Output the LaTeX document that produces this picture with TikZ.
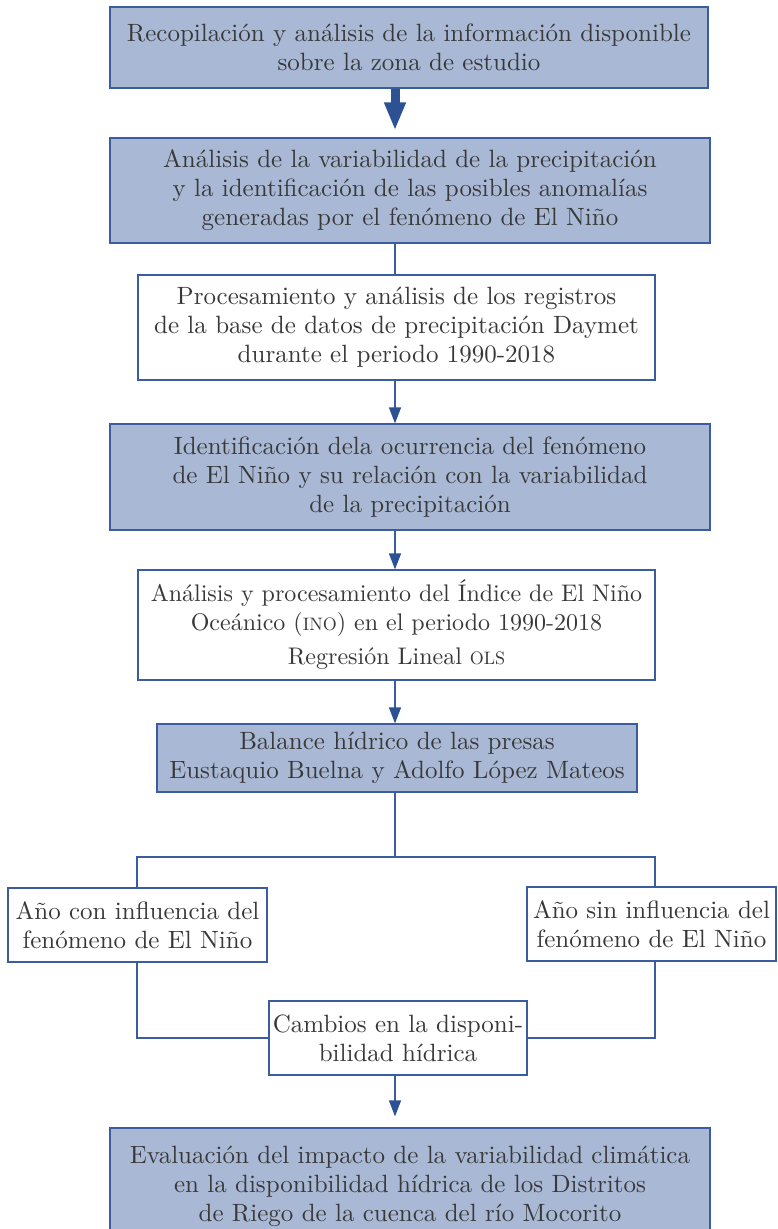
\documentclass[tikz,border=0pt]{standalone}
\usepackage{fontspec}
\setmainfont{lmroman10-regular}[Extension=.otf]
\usepackage{tikz}
\usetikzlibrary{arrows.meta,positioning,calc}
\definecolor{flowFill}{HTML}{A9B9D5}
\definecolor{flowEdge}{HTML}{3B5DA0}
\definecolor{flowArrow}{HTML}{2C5294}
\definecolor{flowText}{HTML}{383838}
\newcommand{\acro}[1]{{\fontsize{18}{18}\selectfont #1}}

\begin{document}
\begin{tikzpicture}[x=1pt,y=-1pt,font=\fontsize{25}{29}\selectfont,text=flowText,
    box/.style={draw=flowEdge,line width=1.2pt,align=center,inner sep=0pt},
    bluebox/.style={box,fill=flowFill},
    whitebox/.style={box,fill=white},
    link/.style={draw=flowEdge,line width=1.3pt},
    tolink/.style={link,-{Triangle[length=16pt,width=12pt,color=flowArrow]}},
    bigarrow/.style={draw=flowArrow,line width=9pt,-{Triangle[length=28pt,width=20pt]}}]
  \useasboundingbox (0,0) rectangle (777,1229);
  \coordinate (spine) at (395,0);

  % main column
  \node[bluebox,minimum width=598pt,minimum height=81pt] (recop) at (409,47.5)
    {Recopilación y análisis de la información disponible\\sobre la zona de estudio};
  \node[bluebox,minimum width=600pt,minimum height=105pt] (anal) at (410,190.5)
    {Análisis de la variabilidad de la precipitación\\y la identificación de las posibles anomalías\\generadas por el fenómeno de El Niño};
  \node[whitebox,minimum width=517pt,minimum height=105pt] (proc) at (396.5,327.5)
    {Procesamiento y análisis de los registros\\de la base de datos de precipitación Daymet\\durante el periodo 1990-2018};
  \node[bluebox,minimum width=600pt,minimum height=106pt] (ident) at (410,477)
    {Identificación dela ocurrencia del fenómeno\\de El Niño y su relación con la variabilidad\\de la precipitación};
  \node[whitebox,minimum width=517pt,minimum height=110pt,font=\fontsize{24}{29}\selectfont] (indice) at (396.5,625)
    {Análisis y procesamiento del Índice de El Niño\\Oceánico (\acro{INO}) en el periodo 1990-2018\\[5pt]Regresión Lineal \acro{OLS}};
  \node[bluebox,minimum width=480pt,minimum height=68pt] (balance) at (397,758)
    {Balance hídrico de las presas\\Eustaquio Buelna y Adolfo López Mateos};

  % the two cases
  \node[whitebox,minimum width=259pt,minimum height=74pt] (conNino) at (137.5,925)
    {Año con influencia del\\fenómeno de El Niño};
  \node[whitebox,minimum width=249pt,minimum height=74pt] (sinNino) at (651.5,924)
    {Año sin influencia del\\fenómeno de El Niño};
  \node[whitebox,minimum width=258pt,minimum height=74pt] (cambios) at (398,1038)
    {Cambios en la disponi-\\bilidad hídrica};
  \node[bluebox,minimum width=600pt,minimum height=116pt] (evalua) at (410,1186)
    {Evaluación del impacto de la variabilidad climática\\en la disponibilidad hídrica de los Distritos\\de Riego de la cuenca del río Mocorito};

  % connectors
  \coordinate (fork) at (395,857);
  \coordinate (forkL) at (137,857);
  \coordinate (forkR) at (655,857);
  \draw[bigarrow] (recop.south -| spine) -- ($(anal.north -| spine)+(0,-7)$);
  \draw[link] (anal.south -| spine) -- (proc.north -| spine);
  \draw[tolink] (proc.south -| spine) -- (ident.north -| spine);
  \draw[tolink] (ident.south -| spine) -- (indice.north -| spine);
  \draw[tolink] (indice.south -| spine) -- (balance.north -| spine);
  \draw[link] (balance.south -| spine) -- (fork);
  \draw[link] (forkL |- conNino.north) -- (forkL) -- (forkR) -- (forkR |- sinNino.north);
  \draw[link] (forkL |- conNino.south) |- (cambios.west);
  \draw[link] (forkR |- sinNino.south) |- (cambios.east);
  \draw[tolink] (cambios.south -| spine) -- ($(evalua.north -| spine)+(0,-11)$);
\end{tikzpicture}
\end{document}
